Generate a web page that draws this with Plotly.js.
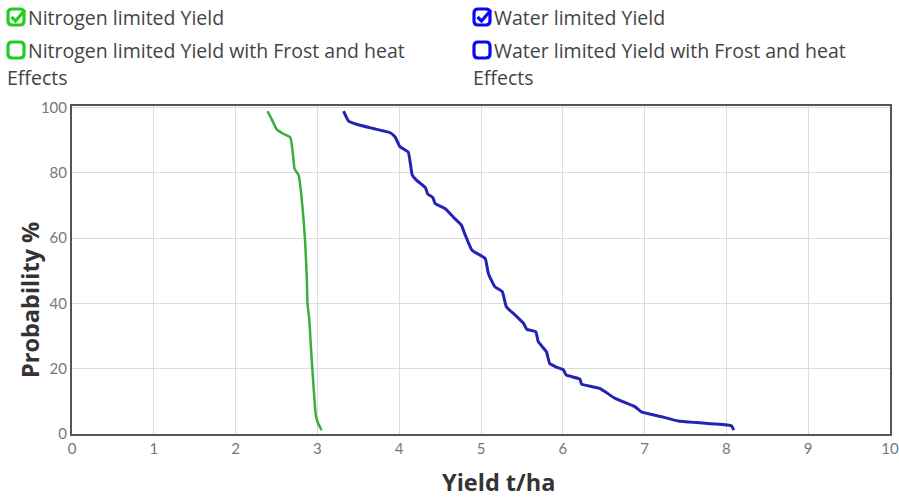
<!DOCTYPE html>
<html>
<head>
<meta charset="utf-8">
<script src="https://cdn.plot.ly/plotly-3.0.1.min.js"></script>
<style>html,body{margin:0;padding:0;background:#fff;}#chart{width:899px;height:497px;}</style>
</head>
<body>
<div id="chart"></div>
<script>
// ---- data ----
const nitrogenYield = [2.39, 2.45, 2.50, 2.58, 2.67, 2.70, 2.72, 2.77, 2.80, 2.83, 2.85, 2.87, 2.88, 2.90, 2.92, 2.94, 2.96, 2.98, 3.01, 3.05];
const nitrogenProb  = [98.9, 96.0, 93.4, 92.0, 90.8, 86.0, 81.3, 79.3, 74.2, 66.0, 58.9, 48.0, 39.5, 35.4, 27.0, 19.1, 12.0, 5.8, 3.2, 1.2];

const waterYield = [3.32, 3.38, 3.48, 3.68, 3.89, 3.95, 4.01, 4.11, 4.16, 4.21, 4.32, 4.35, 4.41, 4.44, 4.56, 4.68, 4.76, 4.80, 4.89, 5.05, 5.09, 5.17, 5.26, 5.31, 5.42, 5.52, 5.56, 5.67, 5.70, 5.80, 5.84, 5.93, 6.01, 6.04, 6.21, 6.23, 6.45, 6.64, 6.88, 6.96, 7.21, 7.41, 7.64, 7.84, 8.06, 8.09];
const waterProb  = [98.9, 95.9, 94.9, 93.6, 92.3, 91.0, 88.0, 86.4, 79.3, 77.8, 75.5, 73.5, 72.5, 70.6, 69.1, 66.0, 64.0, 61.4, 56.3, 53.8, 49.2, 45.1, 43.6, 39.0, 36.4, 33.9, 32.1, 31.3, 28.3, 25.2, 21.6, 20.4, 19.6, 18.1, 16.8, 15.3, 14.0, 10.9, 8.4, 6.8, 5.3, 4.0, 3.5, 3.1, 2.5, 1.2];

const xTickVals = [0, 1, 2, 3, 4, 5, 6, 7, 8, 9, 10];
const yTickVals = [0, 20, 40, 60, 80, 100];

const legendLabels = ["Nitrogen limited Yield", "Nitrogen limited Yield with Frost and heat", "Effects",
                      "Water limited Yield", "Water limited Yield with Frost and heat", "Effects"];
const xTitle = "Yield t/ha";
const yTitle = "Probability %";

// ---- layout helpers (pixel -> paper) ----
const W = 899, H = 497;
const M = {l: 72, r: 9, t: 106, b: 63};
const PW = W - M.l - M.r, PH = H - M.t - M.b;
const px = v => (v - M.l) / PW;
const py = v => (H - M.b - v) / PH;

function boxPath(x0, y0, x1, y1, r) {
  return `M ${px(x0 + r)} ${py(y0)} L ${px(x1 - r)} ${py(y0)} Q ${px(x1)} ${py(y0)} ${px(x1)} ${py(y0 + r)} ` +
         `L ${px(x1)} ${py(y1 - r)} Q ${px(x1)} ${py(y1)} ${px(x1 - r)} ${py(y1)} ` +
         `L ${px(x0 + r)} ${py(y1)} Q ${px(x0)} ${py(y1)} ${px(x0)} ${py(y1 - r)} ` +
         `L ${px(x0)} ${py(y0 + r)} Q ${px(x0)} ${py(y0)} ${px(x0 + r)} ${py(y0)} Z`;
}
function checkPath(x0, y0) {
  return `M ${px(x0 + 3.5)} ${py(y0 + 8)} L ${px(x0 + 7.5)} ${py(y0 + 12)} L ${px(x0 + 17)} ${py(y0 + 1)}`;
}

const green = "#22cc22", blue = "#0a0af0";
const shapes = [];
function icon(x0, y0, color, checked) {
  shapes.push({type: "path", xref: "paper", yref: "paper", path: boxPath(x0, y0, x0 + 16, y0 + 16, 4),
               line: {color: color, width: 3.2}, fillcolor: "rgba(0,0,0,0)"});
  if (checked) shapes.push({type: "path", xref: "paper", yref: "paper", path: checkPath(x0, y0),
               line: {color: color, width: 3.2}});
}
icon(8, 9, green, true);
icon(8, 42, green, false);
icon(474, 9, blue, true);
icon(474, 42, blue, false);

const textFont = {family: "'Open Sans', Lato, sans-serif", size: 19.5, color: "#444"};
function label(text, x, y) {
  return {text: text, xref: "paper", yref: "paper", x: px(x), y: py(y), xanchor: "left", yanchor: "middle",
          showarrow: false, font: textFont};
}
const titleFont = {family: "'Open Sans', Lato, sans-serif", size: 23.5, color: "#333"};
const annotations = [
  label(legendLabels[0], 26, 17),
  label(legendLabels[1], 26, 50),
  label(legendLabels[2], 5, 78),
  label(legendLabels[3], 492, 17),
  label(legendLabels[4], 492, 50),
  label(legendLabels[5], 471, 78),
  {text: "<b>" + xTitle + "</b>", xref: "paper", yref: "paper", x: px(498), y: py(482), xanchor: "center", yanchor: "middle",
   showarrow: false, font: titleFont},
  {text: "<b>" + yTitle + "</b>", xref: "paper", yref: "paper", x: px(30), y: py(300), xanchor: "center", yanchor: "middle",
   textangle: -90, showarrow: false, font: titleFont}
];

const traces = [
  {x: nitrogenYield, y: nitrogenProb, type: "scatter", mode: "lines", name: "Nitrogen limited Yield",
   line: {color: "#3aae3a", width: 2.5, shape: "spline", smoothing: 0.4}, hoverinfo: "x+y"},
  {x: waterYield, y: waterProb, type: "scatter", mode: "lines", name: "Water limited Yield",
   line: {color: "#2323b4", width: 3, shape: "spline", smoothing: 0.4}, hoverinfo: "x+y"}
];

const axisCommon = {
  showgrid: true, gridcolor: "#dcdcdc", gridwidth: 1, zeroline: false,
  showline: true, linecolor: "#555", linewidth: 2, mirror: true,
  ticks: "", tickfont: {family: "Lato, sans-serif", size: 15, color: "#777"}, fixedrange: true
};

const layout = {
  width: W, height: H,
  margin: M,
  paper_bgcolor: "#fff", plot_bgcolor: "#fff",
  showlegend: false,
  xaxis: Object.assign({}, axisCommon, {range: [0, 10], tickvals: xTickVals, ticktext: xTickVals.map(String)}),
  yaxis: Object.assign({}, axisCommon, {range: [0, 100.5], tickvals: yTickVals, ticktext: yTickVals.map(String)}),
  shapes: shapes,
  annotations: annotations
};

Plotly.newPlot("chart", traces, layout, {displayModeBar: false, staticPlot: true});
</script>
</body>
</html>
